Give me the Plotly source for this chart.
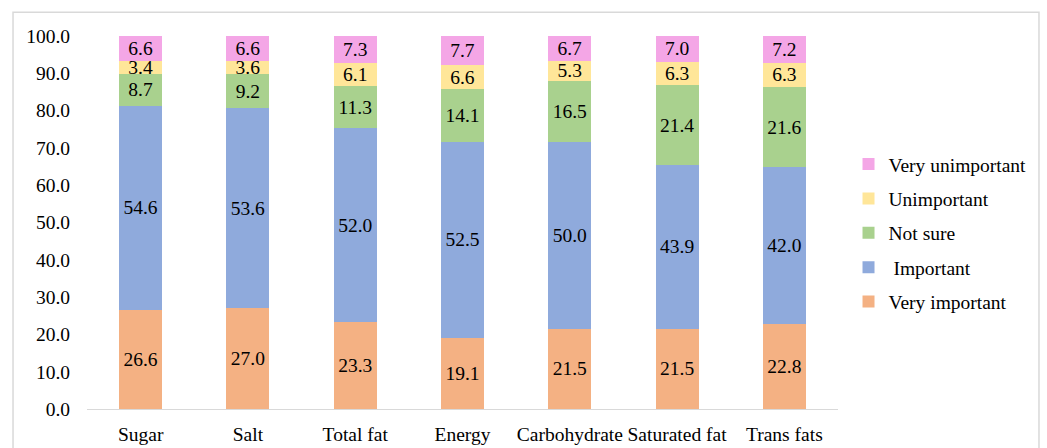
import plotly.graph_objects as go

categories = ["Sugar", "Salt", "Total fat", "Energy", "Carbohydrate", "Saturated fat", "Trans fats"]

very_important = [26.6, 27.0, 23.3, 19.1, 21.5, 21.5, 22.8]
important = [54.6, 53.6, 52.0, 52.5, 50.0, 43.9, 42.0]
not_sure = [8.7, 9.2, 11.3, 14.1, 16.5, 21.4, 21.6]
unimportant = [3.4, 3.6, 6.1, 6.6, 5.3, 6.3, 6.3]
very_unimportant = [6.6, 6.6, 7.3, 7.7, 6.7, 7.0, 7.2]

series = [
    ("Very important", very_important, "#F4B183"),
    (" Important", important, "#8FAADC"),
    ("Not sure", not_sure, "#A9D18E"),
    ("Unimportant", unimportant, "#FFE699"),
    ("Very unimportant", very_unimportant, "#F4A6E6"),
]

FONT = "Liberation Serif"
SIZE = 19.5

fig = go.Figure()
n = len(series)
for i, (name, vals, color) in enumerate(series):
    fig.add_trace(go.Bar(
        x=categories, y=vals, name=name, legendgroup=name,
        legendrank=n - i,
        marker=dict(color=color, line=dict(width=0)),
        text=[f"{v:.1f}" for v in vals],
        textposition="inside", insidetextanchor="middle",
        constraintext="none",
        textfont=dict(family=FONT, size=SIZE, color="black"),
        width=0.4,
    ))

fig.update_layout(
    barmode="stack",
    width=1047, height=448,
    margin=dict(l=87, r=209, t=36, b=39),
    paper_bgcolor="white", plot_bgcolor="white",
    font=dict(family=FONT, size=SIZE, color="black"),
    uniformtext=dict(minsize=SIZE, mode="show"),
    legend=dict(
        x=1.014, y=0.472, xanchor="left", yanchor="middle",
        traceorder="grouped", tracegroupgap=6,
        font=dict(family=FONT, size=SIZE, color="black"),
        itemwidth=30,
    ),
    xaxis=dict(
        showline=True, linecolor="#D9D9D9", linewidth=1,
        showgrid=False, ticks="", ticklabelstandoff=8,
        automargin=False,
    ),
    yaxis=dict(
        range=[0, 100], dtick=10, tickformat=".1f",
        showgrid=False, showline=False, zeroline=False,
        ticks="", ticklabelstandoff=16, automargin=False,
    ),
    shapes=[dict(
        type="rect", xref="paper", yref="paper",
        x0=-0.0985, x1=1.2676, y0=-0.2, y1=1.064,
        line=dict(color="#D9D9D9", width=1.5), layer="below",
    )],
)

fig.write_html("out.html")
